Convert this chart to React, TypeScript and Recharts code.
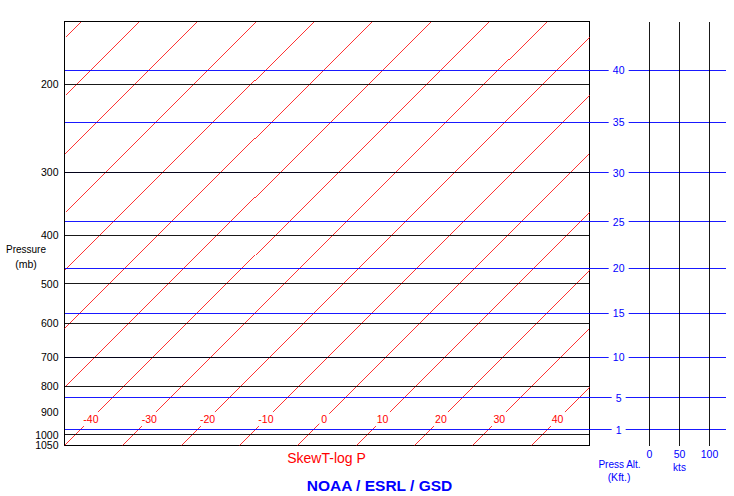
import React from 'react';
import { LineChart, Line, XAxis, YAxis, ReferenceLine, ReferenceArea, ReferenceDot } from 'recharts';

// ---- data ----
const isotherms = [-110, -100, -90, -80, -70, -60, -50, -40, -30, -20, -10, 0, 10, 20, 30, 40];
const tempLabels = [-40, -30, -20, -10, 0, 10, 20, 30, 40];
const pressureLines = [200, 300, 400, 500, 600, 700, 800, 1000];
const pressureTicks = [200, 300, 400, 500, 600, 700, 800, 900, 1000, 1050];
const altitudeKft = [40, 35, 30, 25, 20, 15, 10, 5, 1];
const altitudeMb = [187.5, 238.4, 300, 376.0, 465.6, 571.8, 700, 843.1, 977.2];
const windTicks = [0, 50, 100];

// ---- diagram configuration ----
const P_TOP = 150;
const P_BOT = 1050;
const T_LEFT = -40;
const T_RIGHT = 50;
const SKEW = 37.35; // degrees of skew per ln(p) unit (45° isotherms)
const X_MAX = 73.314; // axis extends past the box for altitude labels + wind panel
const LABEL_P = 930;
const ALT_LABEL_X = 55;
const WIND_X0 = 60.286; // axis position of 0 kts
const WIND_PER_KT = 0.10286;

const RED = '#ff0000';
const BLUE = '#0000ff';
const FONT = '"Liberation Sans", Arial, sans-serif';

const skewX = (t: number, p: number) => t + SKEW * Math.log(P_BOT / p);
const pAtX = (t: number, x: number) => P_BOT * Math.exp(-(x - t) / SKEW);

function isothermSegment(t: number) {
  const start = t >= T_LEFT ? { x: t, p: P_BOT } : { x: T_LEFT, p: pAtX(t, T_LEFT) };
  const topX = skewX(t, P_TOP);
  const end = topX <= T_RIGHT ? { x: topX, p: P_TOP } : { x: T_RIGHT, p: pAtX(t, T_RIGHT) };
  return [start, end];
}

const TempLabel = (label: string) => (props: any) => {
  const { cx, cy } = props;
  const w = label.length * 5.9 + 4;
  const h = 14;
  return (
    <g>
      <rect x={cx - w / 2} y={cy - h / 2} width={w} height={h} fill="#fff" />
      <text x={cx} y={cy} textAnchor="middle" dominantBaseline="central" fill={RED} fontSize={10.5} fontFamily={FONT}>
        {label}
      </text>
    </g>
  );
};

const AltLabel = (label: string) => (props: any) => {
  const { cx, cy } = props;
  const w = label.length * 6 + 8;
  const h = 6;
  return (
    <g>
      <rect x={cx - w / 2} y={cy - h / 2} width={w} height={h} fill="#fff" />
      <text x={cx} y={cy} textAnchor="middle" dominantBaseline="central" fill={BLUE} fontSize={10.5} fontFamily={FONT}>
        {label}
      </text>
    </g>
  );
};

export default function App() {
  return (
    <div style={{ position: 'absolute', left: 0, top: 0, width: 734, height: 496, background: '#fff' }}>
      <LineChart
        width={734}
        height={496}
        margin={{ top: 21.5, right: 8.5, left: 0, bottom: 50.5 }}
        style={{ fontFamily: FONT }}
      >
        <XAxis xAxisId="t" type="number" dataKey="x" domain={[T_LEFT, X_MAX]} allowDataOverflow hide />
        <YAxis
          type="number"
          dataKey="p"
          scale="log"
          domain={[P_TOP, P_BOT]}
          allowDataOverflow
          reversed
          ticks={pressureTicks}
          interval={0}
          axisLine={false}
          tickLine={false}
          tickSize={6}
          tickMargin={0}
          width={64.5}
          tick={{ fill: '#000', fontSize: 10.5 }}
        />

        {isotherms.map((t) => (
          <Line
            key={'iso' + t}
            xAxisId="t"
            data={isothermSegment(t)}
            dataKey="p"
            stroke={RED}
            strokeWidth={0.8}
            dot={false}
            activeDot={false}
            isAnimationActive={false}
            shapeRendering="crispEdges"
          />
        ))}

        {altitudeMb.map((p, i) => (
          <ReferenceLine key={'alt' + i} xAxisId="t" y={p} stroke={BLUE} strokeWidth={0.9} shapeRendering="crispEdges" />
        ))}

        {pressureLines.map((p) => (
          <ReferenceLine
            key={'pl' + p}
            xAxisId="t"
            segment={[{ x: T_LEFT, y: p }, { x: T_RIGHT, y: p }]}
            stroke="#000"
            strokeWidth={0.9}
            shapeRendering="crispEdges"
          />
        ))}

        {windTicks.map((w) => (
          <ReferenceLine
            key={'w' + w}
            xAxisId="t"
            x={WIND_X0 + w * WIND_PER_KT}
            stroke="#000"
            strokeWidth={0.9}
            shapeRendering="crispEdges"
            label={{ value: String(w), position: 'bottom', offset: 5, fill: BLUE, fontSize: 10.5, fontFamily: FONT }}
          />
        ))}

        <ReferenceArea
          xAxisId="t"
          x1={T_LEFT}
          x2={T_RIGHT}
          y1={P_TOP}
          y2={P_BOT}
          fill="none"
          fillOpacity={0}
          stroke="#000"
          strokeWidth={1}
          strokeOpacity={1}
          shapeRendering="crispEdges"
        />

        {tempLabels.map((t) => (
          <ReferenceDot
            key={'tl' + t}
            xAxisId="t"
            x={skewX(t, LABEL_P)}
            y={LABEL_P}
            r={0}
            shape={TempLabel(String(t))}
          />
        ))}

        {altitudeMb.map((p, i) => (
          <ReferenceDot
            key={'al' + i}
            xAxisId="t"
            x={ALT_LABEL_X}
            y={p}
            r={0}
            shape={AltLabel(String(altitudeKft[i]))}
          />
        ))}
      </LineChart>

      <svg
        width={734}
        height={496}
        style={{ position: 'absolute', left: 0, top: 0, pointerEvents: 'none' }}
        fontFamily={FONT}
      >
        <text x={26} y={249} textAnchor="middle" dominantBaseline="central" fontSize={10} fill="#000">Pressure</text>
        <text x={26} y={264} textAnchor="middle" dominantBaseline="central" fontSize={10.5} fill="#000">(mb)</text>
        <text x={326.5} y={457.5} textAnchor="middle" dominantBaseline="central" fontSize={14} fill={RED}>SkewT-log P</text>
        <text x={379.5} y={485} textAnchor="middle" dominantBaseline="central" fontSize={15.5} fontWeight="bold" fill={BLUE}>NOAA / ESRL / GSD</text>
        <text x={619.5} y={464.5} textAnchor="middle" dominantBaseline="central" fontSize={10} fill={BLUE}>Press Alt.</text>
        <text x={619} y={477} textAnchor="middle" dominantBaseline="central" fontSize={10.5} fill={BLUE}>(Kft.)</text>
        <text x={679.5} y={467} textAnchor="middle" dominantBaseline="central" fontSize={10} fill={BLUE}>kts</text>
      </svg>
    </div>
  );
}
